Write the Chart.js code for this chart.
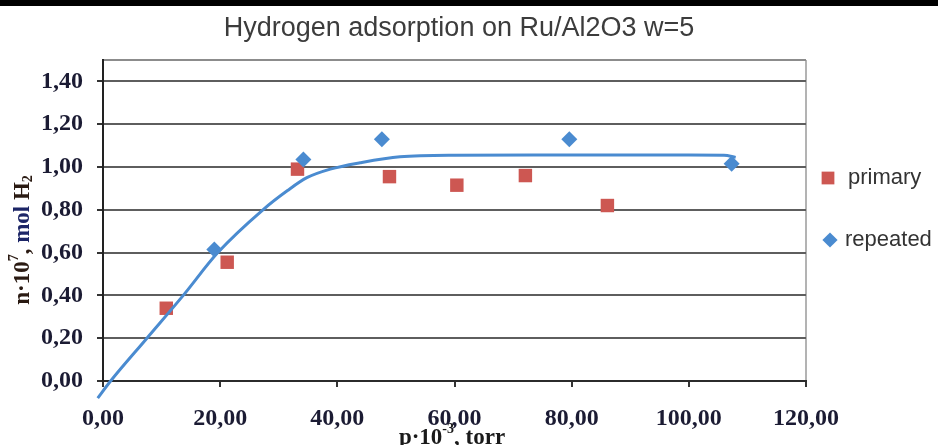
<!DOCTYPE html>
<html>
<head>
<meta charset="utf-8">
<script src="https://cdn.jsdelivr.net/npm/chart.js@4.4.1/dist/chart.umd.min.js"></script>
<style>
  html, body { margin: 0; padding: 0; background: #fff; }
  #wrap { width: 938px; height: 445px; }
</style>
</head>
<body>
<div id="wrap"><canvas id="chart" width="938" height="445"></canvas></div>
<script>
const chartTitle = 'Hydrogen adsorption on Ru/Al2O3 w=5';

// first run, p·10^-3 torr vs n·10^7 mol
const primaryP = [10.8, 21.2, 33.2, 48.9, 60.4, 72.1, 86.1];
const primaryN = [0.34, 0.555, 0.99, 0.955, 0.915, 0.96, 0.82];

// second run
const repeatedP = [19.0, 34.2, 47.6, 79.6, 107.3];
const repeatedN = [0.615, 1.035, 1.13, 1.13, 1.015];

// smoothed isotherm curve
const fitP = [-0.9, 1.3, 7.5, 13.7, 19.6, 27.3, 31.5, 34.8, 38.8, 43.9, 50.7, 60, 80, 100, 106, 108];
const fitN = [-0.08, 0, 0.2, 0.4, 0.6, 0.8, 0.89, 0.95, 0.99, 1.02, 1.048, 1.055, 1.056, 1.056, 1.055, 1.045];

const xTickLabels = ['0,00', '20,00', '40,00', '60,00', '80,00', '100,00', '120,00'];
const yTickValues = [0, 0.2, 0.4, 0.6, 0.8, 1.0, 1.2, 1.4, 1.5];
const yTickLabels = ['0,00', '0,20', '0,40', '0,60', '0,80', '1,00', '1,20', '1,40', ''];

const RED = '#cd5752';
const BLUE = '#4a8bd0';
const SERIF = '"Liberation Serif", "Times New Roman", serif';
const SANS = '"Liberation Sans", Arial, sans-serif';

const toPoints = (xs, ys) => xs.map((x, i) => ({ x: x, y: ys[i] }));

// text with superscript / subscript pieces, centred on (cx, cy)
function drawRichText(ctx, pieces, cx, cy, size) {
    const small = Math.round(size * 0.62);
    let total = 0;
    pieces.forEach(p => {
        ctx.font = 'bold ' + (p.sup || p.sub ? small : size) + 'px ' + SERIF;
        p.w = ctx.measureText(p.t).width;
        total += p.w;
    });
    let x = cx - total / 2;
    ctx.textAlign = 'left';
    ctx.textBaseline = 'middle';
    pieces.forEach(p => {
        ctx.font = 'bold ' + (p.sup || p.sub ? small : size) + 'px ' + SERIF;
        ctx.fillStyle = p.c || '#1a1a1a';
        const dy = p.sup ? -size * 0.38 : (p.sub ? size * 0.22 : 0);
        ctx.fillText(p.t, x, cy + dy);
        x += p.w;
    });
}

const decorations = {
    id: 'decorations',
    beforeDraw(chart) {
        const ctx = chart.ctx;
        ctx.save();
        ctx.fillStyle = '#000';
        ctx.fillRect(0, 0, chart.width, 6);

        ctx.font = '27px ' + SANS;
        ctx.fillStyle = '#3c3c3c';
        ctx.textAlign = 'center';
        ctx.textBaseline = 'middle';
        ctx.fillText(chartTitle, 459, 29);

        // x axis title sits under the tick labels
        drawRichText(ctx, [
            { t: 'p·10' }, { t: '-3', sup: true }, { t: ', torr' }
        ], 452, 438, 23);
        ctx.restore();
    },
    afterDraw(chart) {
        const ctx = chart.ctx;
        ctx.save();
        // y axis title
        ctx.translate(23, 240);
        ctx.rotate(-Math.PI / 2);
        drawRichText(ctx, [
            { t: 'n·10', c: '#2a1a12' }, { t: '7', sup: true, c: '#2a1a12' },
            { t: ', ', c: '#2a1a12' }, { t: 'mol', c: '#1c2566' },
            { t: ' H', c: '#2a1a12' }, { t: '2', sub: true, c: '#2a1a12' }
        ], 0, 0, 23);
        ctx.restore();

        // legend on the right
        ctx.save();
        const sets = chart.data.datasets;
        const rows = [
            { ds: sets[1], x: 828, y: 178, tx: 848 },
            { ds: sets[2], x: 830, y: 240, tx: 845 }
        ];
        rows.forEach(r => {
            ctx.fillStyle = r.ds.backgroundColor;
            Chart.helpers.drawPoint(ctx, {
                pointStyle: r.ds.pointStyle,
                radius: r.ds.pointRadius * 0.95,
                borderWidth: 0,
                rotation: 0
            }, r.x, r.y);
            ctx.font = '22px ' + SANS;
            ctx.fillStyle = '#333';
            ctx.textAlign = 'left';
            ctx.textBaseline = 'middle';
            ctx.fillText(r.ds.label, r.tx, r.y);
        });
        ctx.restore();
    }
};

new Chart(document.getElementById('chart'), {
    type: 'scatter',
    data: {
        datasets: [
            {
                label: 'fit',
                data: toPoints(fitP, fitN),
                showLine: true,
                borderColor: BLUE,
                borderWidth: 3,
                pointRadius: 0,
                cubicInterpolationMode: 'monotone',
                clip: false,
                order: 0
            },
            {
                label: 'primary',
                data: toPoints(primaryP, primaryN),
                pointStyle: 'rect',
                pointRadius: 9.5,
                backgroundColor: RED,
                borderWidth: 0,
                order: 2
            },
            {
                label: 'repeated',
                data: toPoints(repeatedP, repeatedN),
                pointStyle: 'rectRot',
                pointRadius: 8,
                backgroundColor: BLUE,
                borderWidth: 0,
                order: 1
            }
        ]
    },
    options: {
        responsive: false,
        animation: false,
        devicePixelRatio: 1,
        layout: { padding: { left: 0, right: 132, top: 60, bottom: 0 } },
        plugins: {
            legend: { display: false },
            tooltip: { enabled: false },
            title: { display: false }
        },
        scales: {
            x: {
                type: 'linear',
                min: 0,
                max: 120,
                afterFit: s => { s.height = 64; },
                ticks: {
                    stepSize: 20,
                    autoSkip: false,
                    maxRotation: 0,
                    padding: 17,
                    color: '#1b1b33',
                    font: { family: SERIF, size: 24, weight: 'bold' },
                    callback: (v, i) => xTickLabels[i]
                },
                grid: {
                    color: c => (c.tick && c.tick.value === 120 ? '#b3b3b3' : 'rgba(0,0,0,0)'),
                    lineWidth: 2,
                    tickLength: 6,
                    tickColor: '#333',
                    tickWidth: 2
                },
                border: { color: '#2b2b2b', width: 2 }
            },
            y: {
                min: 0,
                max: 1.5,
                afterFit: s => { s.width = 103; },
                afterBuildTicks: s => { s.ticks = yTickValues.map(v => ({ value: v })); },
                ticks: {
                    padding: 14,
                    color: '#1b1b33',
                    font: { family: SERIF, size: 24, weight: 'bold' },
                    callback: (v, i) => yTickLabels[i]
                },
                grid: {
                    color: c => (c.tick && c.tick.value === 1.5 ? '#8c8c8c' : '#5e5e5e'),
                    lineWidth: 2,
                    tickLength: 6,
                    tickColor: c => (c.tick && c.tick.value === 1.5 ? 'rgba(0,0,0,0)' : '#333'),
                    tickWidth: 2
                },
                border: { color: '#222', width: 2 }
            }
        }
    },
    plugins: [decorations]
});
</script>
</body>
</html>
